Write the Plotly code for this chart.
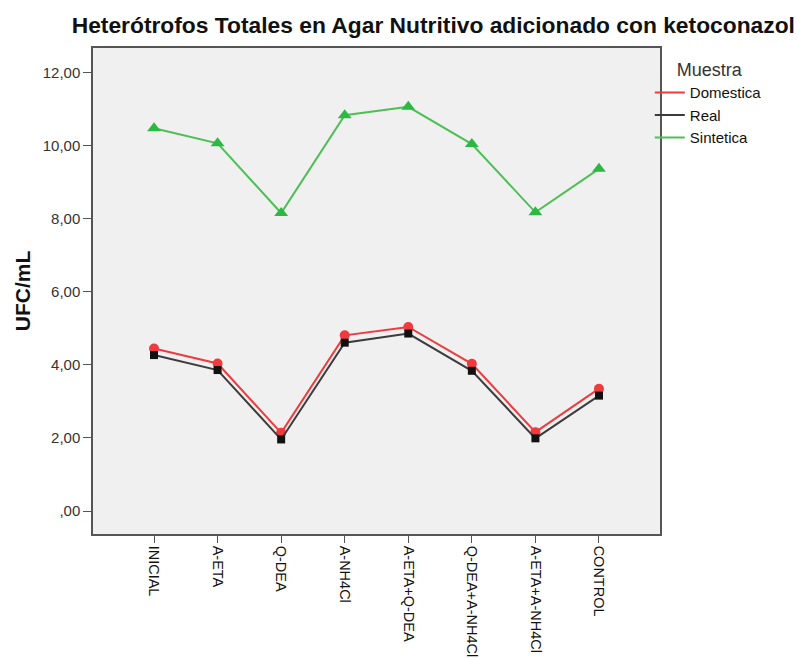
import plotly.graph_objects as go

categories = ["INICIAL", "A-ETA", "Q-DEA", "A-NH4Cl", "A-ETA+Q-DEA",
              "Q-DEA+A-NH4Cl", "A-ETA+A-NH4Cl", "CONTROL"]
domestica = [4.45, 4.04, 2.14, 4.81, 5.04, 4.03, 2.16, 3.35]
real = [4.27, 3.86, 1.96, 4.61, 4.86, 3.84, 1.99, 3.16]
sintetica = [10.48, 10.07, 8.16, 10.84, 11.07, 10.05, 8.18, 9.37]
y_ticks = [0, 2, 4, 6, 8, 10, 12]
y_tick_labels = [",00", "2,00", "4,00", "6,00", "8,00", "10,00", "12,00"]

FONT = "Liberation Sans, Arial, sans-serif"

series = [
    ("Domestica", domestica, "#EE3B3F", "#F03A3E", "circle", 10),
    ("Real", real, "#3C3C3C", "#111111", "square", 8),
    ("Sintetica", sintetica, "#4DBF55", "#2BB843", "triangle-up", 12),
]

x_idx = list(range(len(categories)))
fig = go.Figure()
for name, vals, lc, mc, sym, size in series:
    fig.add_trace(go.Scatter(
        x=x_idx, y=vals, mode="lines+markers", name=name, showlegend=False,
        line=dict(color=lc, width=2),
        marker=dict(color=mc, symbol=sym, size=size, line=dict(width=0)),
    ))
for name, vals, lc, mc, sym, size in series:
    fig.add_trace(go.Scatter(
        x=[None], y=[None], mode="lines", name=name, showlegend=True,
        line=dict(color=lc, width=2),
    ))

fig.update_layout(
    width=798, height=658,
    paper_bgcolor="white", plot_bgcolor="#F0F0F0",
    margin=dict(l=93, r=138, t=48, b=124),
    font=dict(family=FONT, size=15, color="#222222"),
    title=dict(text="<b>Heterótrofos Totales en Agar Nutritivo adicionado con ketoconazol</b>",
               x=0.543, xanchor="center", y=0.962, yanchor="middle",
               font=dict(size=22.8, color="#111111", family=FONT)),
    legend=dict(x=0.982, xanchor="left", y=0.99, yanchor="top",
                title=dict(text="     Muestra", font=dict(size=18, color="#333333")),
                font=dict(size=15, color="#111111"), bgcolor="rgba(0,0,0,0)",
                itemwidth=30, tracegroupgap=0),
    xaxis=dict(
        tickmode="array", tickvals=x_idx, ticktext=categories, tickangle=90,
        range=[-0.96, 7.96], showgrid=False, zeroline=False, automargin=False,
        showline=True, mirror=True, linecolor="#555555", linewidth=1.5,
        ticks="outside", ticklen=7, tickcolor="#555555",
        tickfont=dict(size=14.5, color="#111111"),
    ),
    yaxis=dict(
        tickmode="array", tickvals=y_ticks, ticktext=y_tick_labels,
        range=[-0.63, 12.68], showgrid=False, zeroline=False, automargin=False,
        showline=True, mirror=True, linecolor="#555555", linewidth=1.5,
        ticks="outside", ticklen=8, tickcolor="#555555",
        tickfont=dict(size=15, color="#333333"),
        title=dict(text="<b>UFC/mL</b>", font=dict(size=21, color="#111111"), standoff=6),
    ),
)

fig.write_html("out.html", config={"displayModeBar": False},
               post_script="document.body.style.margin='0';document.body.style.overflow='hidden';")
